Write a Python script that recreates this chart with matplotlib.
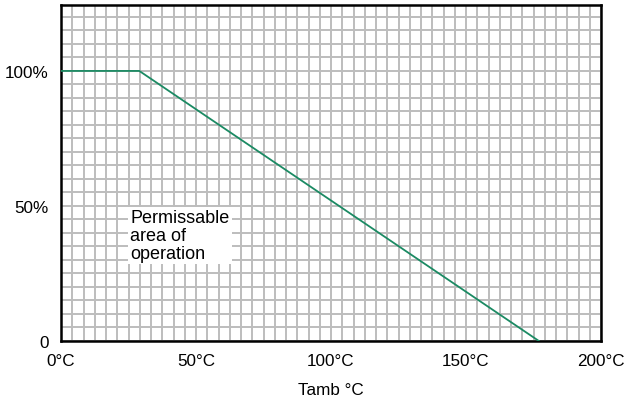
import matplotlib
matplotlib.use("Agg")
import matplotlib.pyplot as plt
from matplotlib.ticker import MultipleLocator

plt.rcParams['font.family'] = ['Liberation Sans', 'DejaVu Sans']

temp = [0, 29, 177]
power = [100, 100, 0]
xticks = [0, 50, 100, 150, 200]
xlabels = ['0°C', '50°C', '100°C', '150°C', '200°C']
yticks = [0, 50, 100]
ylabels = ['0', '50%', '100%']

fig = plt.figure(figsize=(6.29, 4.02), dpi=100)
ax = fig.add_axes([61/629, 1-342/402, 540/629, (342-5.5)/402])
ax.set_xlim(0, 200)
ax.set_ylim(0, 124.6)

ax.xaxis.set_minor_locator(MultipleLocator(200/48))
ax.yaxis.set_minor_locator(MultipleLocator(5))
ax.grid(which='both', color='#bdbdbd', linewidth=1.4)
ax.set_axisbelow(True)

ax.plot(temp, power, color='#1b8a63', linewidth=1.3, zorder=3)

ax.set_xticks(xticks)
ax.set_xticklabels(xlabels)
ax.set_yticks(yticks)
ax.set_yticklabels(ylabels)
ax.tick_params(which='both', length=0, labelsize=12.3)
ax.tick_params(axis='x', pad=9)
ax.tick_params(axis='y', pad=9)
for s in ax.spines.values():
    s.set_linewidth(1.8)
    s.set_color('black')

ax.set_xlabel('Tamb °C', fontsize=12.3, labelpad=10)

ax.text(25.6, 49.0, 'Permissable\narea of\noperation', fontsize=13,
        va='top', ha='left', linespacing=1.08, zorder=4,
        bbox=dict(boxstyle='square,pad=0.12', facecolor='white', edgecolor='none'))

fig.savefig('out.png', dpi=100)
